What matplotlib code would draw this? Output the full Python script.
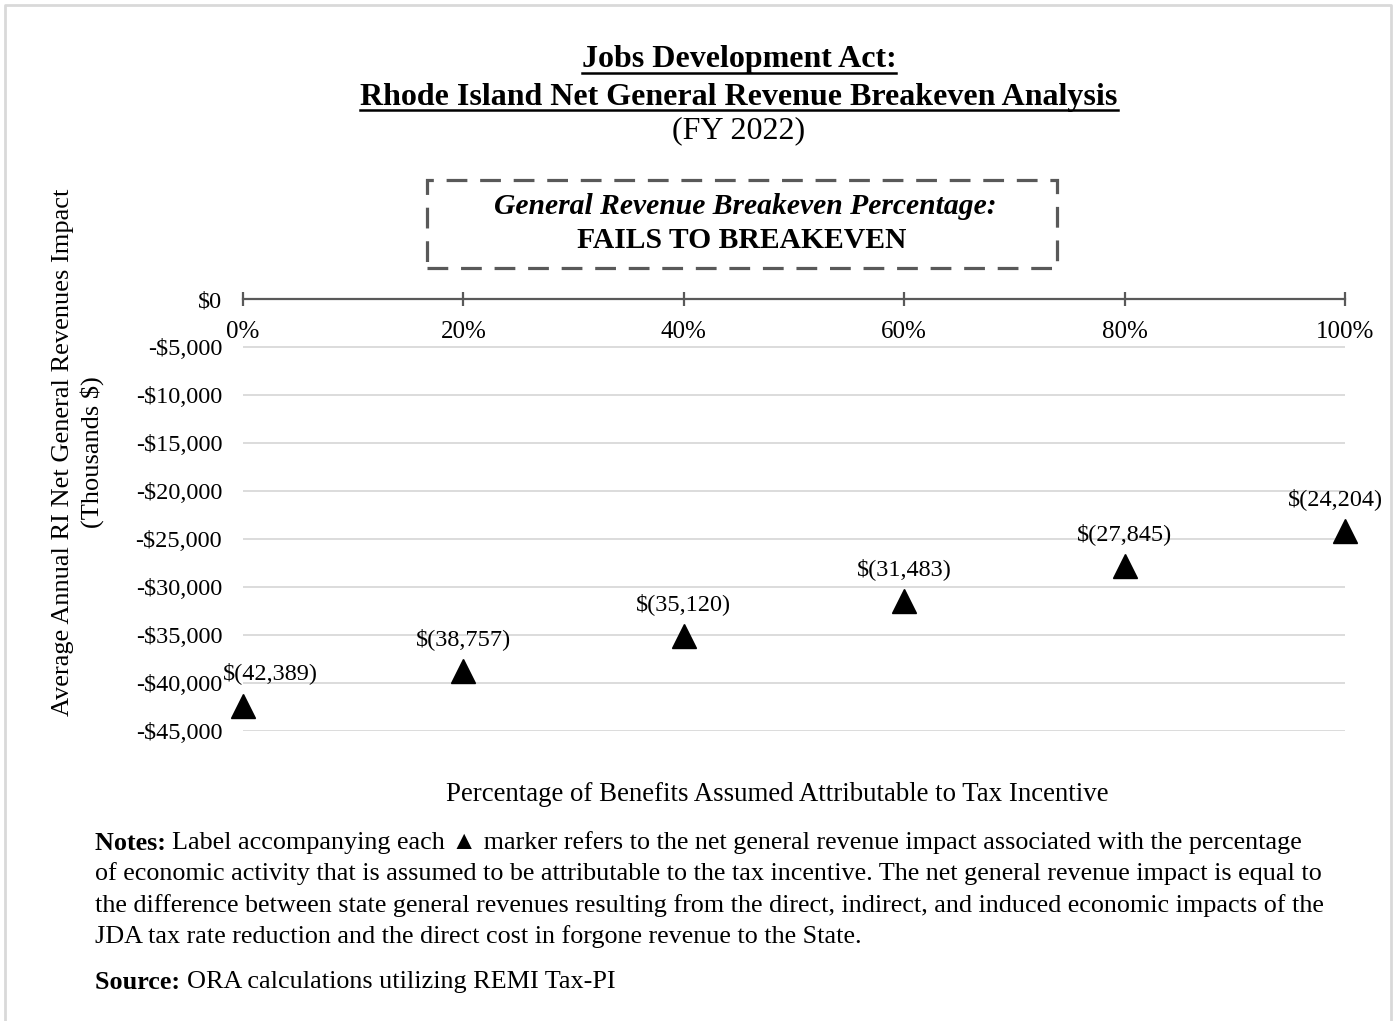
import matplotlib
matplotlib.use("Agg")
import matplotlib.pyplot as plt
from matplotlib.patches import Rectangle
from matplotlib.lines import Line2D
from matplotlib.ticker import FuncFormatter

plt.rcParams["font.family"] = ["Liberation Serif", "DejaVu Serif"]

# data
pct = [0, 20, 40, 60, 80, 100]
impact = [-42389, -38757, -35120, -31483, -27845, -24204]
y_ticks = [0, -5000, -10000, -15000, -20000, -25000, -30000, -35000, -40000, -45000]
x_ticks = [0, 20, 40, 60, 80, 100]

title_lines = ["Jobs Development Act:", "Rhode Island Net General Revenue Breakeven Analysis"]
subtitle = "(FY 2022)"
box_line1 = "General Revenue Breakeven Percentage:"
box_line2 = "FAILS TO BREAKEVEN"
ylabel = "Average Annual RI Net General Revenues Impact\n(Thousands $)"
xlabel = "Percentage of Benefits Assumed Attributable to Tax Incentive"
notes_head = "Notes:"
notes_lines = [
    "Label accompanying each \u25b2 marker refers to the net general revenue impact associated with the percentage",
    "of economic activity that is assumed to be attributable to the tax incentive. The net general revenue impact is equal to",
    "the difference between state general revenues resulting from the direct, indirect, and induced economic impacts of the",
    "JDA tax rate reduction and the direct cost in forgone revenue to the State.",
]
source_head = "Source:"
source_text = "ORA calculations utilizing REMI Tax-PI"

W, H = 1396, 1021
GRAY = "#595959"


def fx(px):
    return px / W


def fy(py):
    return 1 - py / H


def money(v, _=None):
    if v == 0:
        return "$0"
    return f"-${abs(v):,.0f}" if v < 0 else f"${v:,.0f}"


def paren(v):
    return f"$({abs(v):,})"


fig = plt.figure(figsize=(W / 100, H / 100), dpi=100)
ax = fig.add_axes([fx(243), fy(731), fx(1345) - fx(243), fy(299) - fy(731)])

ax.set_xlim(0, 100)
ax.set_ylim(-45000, 0)
for s in ["top", "right", "left", "bottom"]:
    ax.spines[s].set_visible(False)
ax.spines["top"].set_visible(True)
ax.spines["top"].set_color(GRAY)
ax.spines["top"].set_linewidth(1.6)

ax.set_yticks(y_ticks)
ax.yaxis.set_major_formatter(FuncFormatter(money))
ax.tick_params(axis="y", length=0, labelsize=17.5, pad=15)
for t in y_ticks[1:]:
    ax.axhline(t, color="#d9d9d9", lw=1.3, zorder=0)

ax.xaxis.tick_top()
ax.set_xticks(x_ticks)
ax.tick_params(axis="x", direction="inout", length=9.5, width=1.6, color=GRAY,
               labeltop=False, labelbottom=False)
for p in x_ticks:
    ax.annotate(f"{p}%", (p, 0), xytext=(0, -16), textcoords="offset points",
                ha="center", va="top", fontsize=18)

ax.plot(pct, impact, linestyle="none", marker="^", markersize=17,
        color="black", clip_on=False, zorder=3)

label_dx = [20, 0, 0, 0, 0, -7]
for p, v, dx in zip(pct, impact, label_dx):
    ax.annotate(paren(v), (p, v), xytext=(dx, 15.5), textcoords="offset points",
                ha="center", va="bottom", fontsize=17.5)

# titles
title_ys = [60, 97]
title_texts = []
for line, y in zip(title_lines, title_ys):
    title_texts.append(fig.text(fx(739), fy(y), line, ha="center", va="center",
                                fontsize=23, fontweight="bold"))
fig.text(fx(739), fy(131), subtitle, ha="center", va="center", fontsize=23)

# dashed box
box = Rectangle((fx(427), fy(268)), fx(1057) - fx(427), fy(180) - fy(268),
                transform=fig.transFigure, fill=False, edgecolor=GRAY,
                linewidth=2.3, linestyle=(0, (6.5, 4)))
fig.add_artist(box)
fig.text(fx(745), fy(206), box_line1, ha="center", va="center", fontsize=21.3,
         fontweight="bold", fontstyle="italic")
fig.text(fx(742), fy(241), box_line2, ha="center", va="center", fontsize=21.3,
         fontweight="bold")

fig.text(fx(78), fy(452), ylabel, rotation=90, ha="center", va="center",
         multialignment="center", fontsize=19, linespacing=1.3)
fig.text(fx(777), fy(794), xlabel, ha="center", va="center", fontsize=19.4)

# notes
FS_NOTE = 18.8
note_x = fx(95)
note_ys = [843, 874, 906, 937]
fig.canvas.draw()
renderer = fig.canvas.get_renderer()
head = fig.text(note_x, fy(note_ys[0]), notes_head + " ", ha="left", va="center",
                fontsize=FS_NOTE, fontweight="bold")
hw = head.get_window_extent(renderer).width / W
fig.text(note_x + hw, fy(note_ys[0]), notes_lines[0], ha="left", va="center", fontsize=FS_NOTE)
for line, y in zip(notes_lines[1:], note_ys[1:]):
    fig.text(note_x, fy(y), line, ha="left", va="center", fontsize=FS_NOTE)

shead = fig.text(note_x, fy(982), source_head + " ", ha="left", va="center",
                 fontsize=FS_NOTE, fontweight="bold")
sw = shead.get_window_extent(renderer).width / W
fig.text(note_x + sw, fy(982), source_text, ha="left", va="center", fontsize=FS_NOTE)

# underline the title lines
fig.canvas.draw()
for t in title_texts:
    bb = t.get_window_extent(renderer)
    yline = (bb.y0 + 1) / H
    fig.add_artist(Line2D([bb.x0 / W, bb.x1 / W], [yline, yline],
                          transform=fig.transFigure, color="black", lw=1.8))

# outer frame (no bottom edge)
fig.add_artist(Line2D([fx(5), fx(5), fx(1391), fx(1391)], [0, fy(5), fy(5), 0],
                      transform=fig.transFigure, color="#d9d9d9", lw=2))

fig.savefig("out.png", dpi=100, facecolor="white")
